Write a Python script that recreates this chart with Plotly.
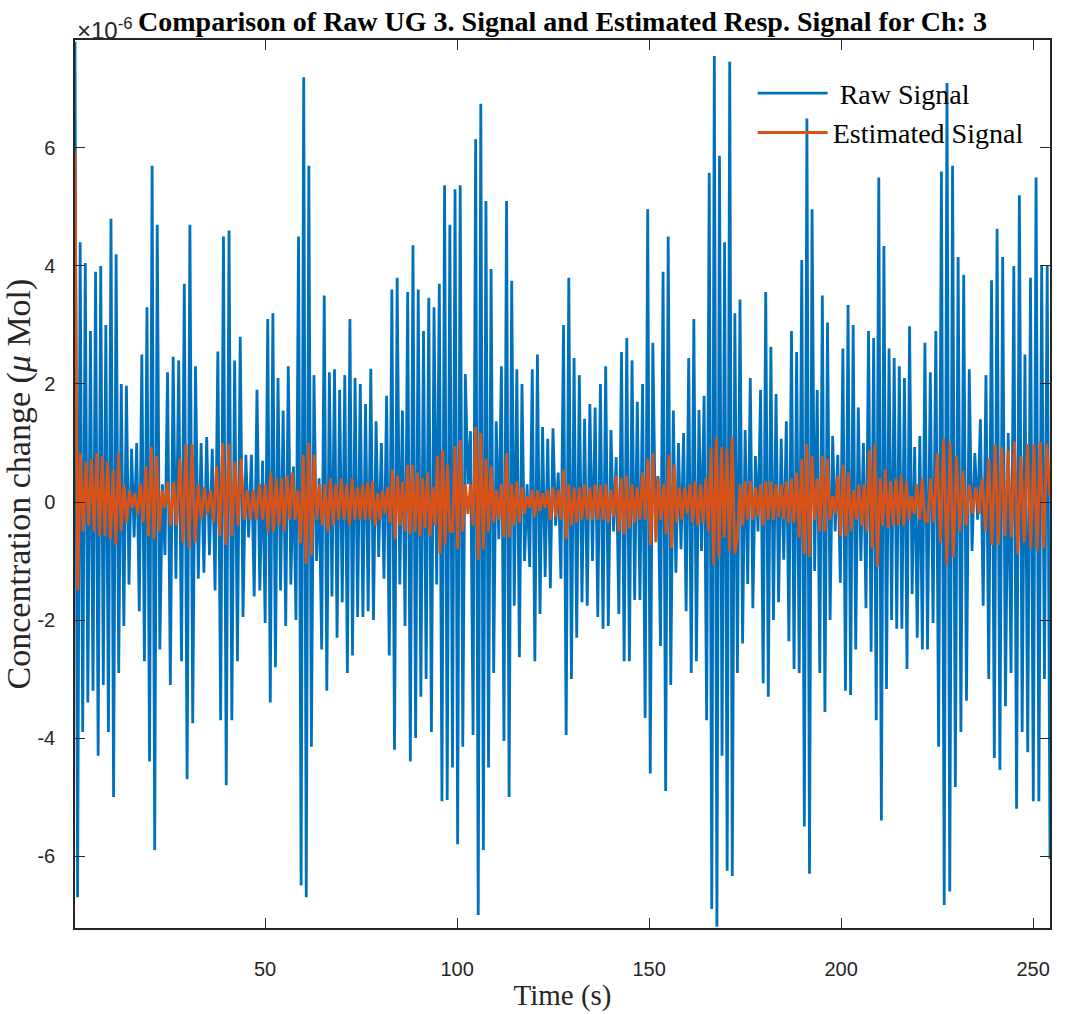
import numpy as np
import plotly.graph_objects as go

# Segment boundaries (s) used to place the extremes
seg_bounds = [0.5, 24.6, 49.35, 74.1, 98.8, 123.6, 148.3, 173.0, 197.8, 222.5, 254.4]

# Raw signal extremes (x 1e-6), read segment by segment
raw_1 = [7.8, -6.7, 4.4, -3.9, 4.05, -3.4, 2.9, -3.2, 3.9, -4.3, 4.0, -3.1, 3.0, -3.9, 4.8, -5.0, 4.2, -2.9,
         2.0, -2.1, 1.97, -1.4, 0.9, -0.6, 1.0, -1.85, 2.5, -2.7, 3.3, -4.4, 5.7, -5.9, 4.7, -2.5, 0.3, -0.9]
raw_2 = [2.2, -3.1, 2.46, -1.3, 2.4, -2.7, 3.7, -4.7, 4.7, -3.75, 2.3, -1.3, 1.0, -1.2, 1.1, -0.9, 0.9, -1.5,
         2.55, -3.7, 4.5, -4.8, 4.6, -3.7, 2.4, -2.7, 2.8, -1.95, 0.8, -0.6, 0.8, -1.6, 1.9, -1.5]
raw_3 = [0.7, -2.05, 3.1, -3.4, 3.2, -2.8, 2.1, -1.5, 1.55, -2.1, 2.3, -1.4, 0.6, -2.0, 4.5, -6.5, 7.2, -6.7,
         5.7, -4.15, 2.15, -1.0, 0.4, -2.5, 3.5, -3.2, 2.2, -1.6, 2.25, -2.3, 1.9, -1.7, 2.15, -2.9, 3.1, -2.6, 2.1]
raw_4 = [-1.95, 2.0, -1.95, 1.66, -1.85, 2.26, -2.0, 1.37, -0.93, 1.0, -1.3, 1.8, -2.6, 3.6, -4.2, 3.8, -1.4,
         1.55, -2.1, 3.56, -4.4, 4.35, -4.0, 3.6, -3.3, 2.9, -3.0, 3.46, -3.9, 3.3, -1.4, 3.7, -5.07, 5.37, -5.05, 4.7]
raw_5 = [-4.5, 5.3, -5.8, 5.37, -4.15, 2.17, 0.3, 1.2, -3.95, 6.15, -7.0, 6.75, -5.9, 5.1, -4.5, 3.95, -2.9,
         1.37, -0.63, 2.3, -4.05, 5.1, -5.0, 3.75, -1.76, 2.25, -2.63, 2.0, -1.0, 0.3, -1.1, 2.25, -2.7, 2.5, -1.9, 1.27, -1.27]
raw_6 = [1.07, -1.46, 1.25, -0.4, 0.5, -1.3, 3.0, -3.95, 3.8, -3.0, 2.44, -2.3, 2.15, -1.7, 1.41, -1.76, 1.66,
         -1.0, 1.6, -1.95, 2.0, -2.15, 2.3, -2.1, 1.22, -0.5, 0.76, -1.9, 2.54, -2.7, 2.78, -2.7, 2.4, -1.66, 1.7, -1.66]
raw_7 = [2.0, -3.66, 4.96, -4.6, 2.7, -0.3, 0.44, -2.44, 3.9, -4.9, 4.5, -3.1, 1.55, -1.2, 1.0, -0.8, 1.17, -1.85,
         2.44, -2.9, 3.1, -2.7, 1.56, -0.83, 1.8, -3.7, 5.58, -6.9, 7.56, -7.2, 5.87, -4.3, 4.4, -6.25, 7.46, -6.34, 3.2]
raw_8 = [-2.9, 3.43, -2.4, 1.22, -1.39, 2.1, -1.8, 0.78, -0.5, 1.9, -3.07, 3.56, -3.3, 2.63, -2.0, 1.83, -1.7,
         1.07, -0.98, 1.37, -2.36, 2.9, -2.83, 2.54, -2.9, 4.1, -5.5, 6.5, -6.3, 4.96, -1.17, 1.9, -2.9, 3.5, -3.56, 3.04, -2.0]
raw_9 = [1.12, -0.5, 0.8, -1.37, 2.6, -3.2, 3.34, -3.27, 3.0, -2.5, 1.6, -1.0, 1.0, -1.8, 2.9, -2.54, 2.78, -3.7,
         5.5, -5.4, 4.34, -3.17, 2.6, -2.0, 2.44, -2.15, 2.3, -2.15, 2.1, -2.83, 2.98, -1.56, 0.93, -2.3, 1.12, -2.5, 2.7]
raw_10 = [-2.5, 2.2, -2.05, 2.9, -4.15, 5.6, -6.83, 7.1, -6.6, 5.7, -4.83, 4.15, -3.9, 3.85, -3.37, 2.25, -0.83,
          0.83, -0.3, 1.4, -1.76, 2.15, -3.0, 3.76, -4.34, 4.63, -4.54, 4.15, -3.46, 1.17, -2.9, 4.0, -5.2, 5.2,
          -3.9, 2.5, -4.24, 3.8, -5.07, 5.5, -5.07, 4.0, -3.0, 4.0, -6.05]

# Estimated signal extremes (x 1e-6)
est_1 = [5.95, -1.5, 0.83, -0.5, 0.68, -0.4, 0.73, -0.5, 0.83, -0.58, 0.78, -0.58, 0.68, -0.63, 0.54, -0.73, 0.83,
         -0.5, 0.3, -0.34, 0.2, -0.1, 0.15, -0.2, 0.3, -0.34, 0.6, -0.58, 0.93, -0.63, 0.78, -0.5, 0.2, -0.1]
est_2 = [0.34, -0.4, 0.34, -0.4, 0.73, -0.68, 0.98, -0.78, 0.98, -0.68, 0.3, -0.3, 0.25, -0.2, 0.2, -0.34, 0.6,
         -0.58, 1.0, -0.73, 0.98, -0.58, 0.68, -0.4, 0.73, -0.3, 0.2, -0.3, 0.2, -0.3, 0.3]
est_3 = [-0.3, 0.3, -0.5, 0.5, -0.5, 0.4, -0.4, 0.4, -0.5, 0.45, -0.3, 0.5, -0.3, 0.2, -0.7, 0.8, -1.05, 1.0, -0.9,
         0.8, -0.3, 0.3, -0.4, 0.3, -0.5, 0.4, -0.4, 0.3, -0.3, 0.4, -0.3, 0.3, -0.4, 0.4, -0.3]
est_4 = [0.25, -0.3, 0.3, -0.3, 0.34, -0.3, 0.35, -0.4, 0.15, -0.3, 0.2, -0.2, 0.25, -0.35, 0.55, -0.63, 0.45, -0.4,
         0.34, -0.5, 0.63, -0.55, 0.63, -0.5, 0.5, -0.58, 0.4, -0.45, 0.5, -0.58, 0.25, -0.4, 0.78, -0.88, 0.88, -0.73, 0.63, -0.5]
est_5 = [-0.5, 0.95, -0.8, 1.05, -0.5, 0.3, -0.2, 0.3, -0.4, 1.27, -0.98, 1.17, -0.8, 0.73, -0.5, 0.6, -0.35, 0.2,
         -0.3, 0.3, -0.6, 0.83, -0.6, 0.3, -0.4, 0.35, -0.35, 0.25, -0.2, 0.1, -0.1, 0.2, -0.25, 0.2, -0.15, 0.15, -0.1]
est_6 = [0.2, -0.3, 0.25, -0.25, 0.2, -0.3, 0.55, -0.63, 0.3, -0.4, 0.25, -0.35, 0.25, -0.3, 0.3, -0.3, 0.25, -0.3,
         0.3, -0.3, 0.28, -0.3, 0.3, -0.35, 0.2, -0.25, 0.45, -0.5, 0.4, -0.55, 0.45, -0.45, 0.3, -0.35, 0.25, -0.3]
est_7 = [0.5, -0.3, 0.73, -0.73, 0.83, -0.68, 0.4, -0.3, 0.3, -0.55, 0.8, -0.78, 0.63, -0.35, 0.25, -0.3, 0.25, -0.2,
         0.3, -0.35, 0.35, -0.4, 0.3, -0.35, 0.4, -0.5, 0.93, -1.07, 1.1, -0.93, 0.93, -0.6, 0.9, -0.83, 1.1, -0.88]
est_8 = [-0.6, 0.3, -0.4, 0.35, -0.3, 0.35, -0.3, 0.25, -0.25, 0.3, -0.4, 0.35, -0.3, 0.35, -0.3, 0.3, -0.25, 0.3,
         -0.3, 0.35, -0.35, 0.4, -0.35, 0.5, -0.6, 0.73, -0.88, 0.98, -0.93, 0.78, -0.3, 0.4, -0.5, 0.78, -0.5, 0.73, -0.3]
est_9 = [0.1, -0.2, 0.45, -0.58, 0.63, -0.58, 0.5, -0.5, 0.2, -0.3, 0.3, -0.4, 0.3, -0.5, 0.88, -0.78, 0.98, -1.1,
         0.4, -0.4, 0.55, -0.45, 0.35, -0.4, 0.4, -0.4, 0.45, -0.4, 0.35, -0.3, 0.1, -0.2, 0.3, -0.3, 0.4, -0.3]
est_10 = [-0.35, 0.4, -0.35, 0.83, -0.68, 1.07, -1.07, 1.02, -0.93, 0.78, -0.5, 0.53, -0.4, 0.3, -0.2, 0.25, -0.2,
          0.4, -0.5, 0.73, -0.73, 0.98, -0.73, 0.93, -0.58, 0.88, -0.6, 1.02, -0.88, 0.78, -0.68, 0.98, -0.78, 0.98,
          -0.83, 1.02, -0.78, 0.98, 0.1]

x_ticks = [50, 100, 150, 200, 250]
y_ticks = [-6, -4, -2, 0, 2, 4, 6]
y_tick_labels = ["-6", "-4", "-2", "0", "2", "4", "6"]

raw_segs = [raw_1, raw_2, raw_3, raw_4, raw_5, raw_6, raw_7, raw_8, raw_9, raw_10]
est_segs = [est_1, est_2, est_3, est_4, est_5, est_6, est_7, est_8, est_9, est_10]


def place(segs):
    t, v = [], []
    for k, s in enumerate(segs):
        a, b = seg_bounds[k], seg_bounds[k + 1]
        last = k == len(segs) - 1
        tt = np.linspace(a, b, len(s), endpoint=last)
        t.extend(tt.tolist())
        v.extend(s)
    return t, v


t_raw, v_raw = place(raw_segs)
t_est, v_est = place(est_segs)

BLUE = "#0072BD"
ORANGE = "#D95319"
AX = "#262626"

fig = go.Figure()
fig.add_trace(go.Scatter(x=t_raw, y=v_raw, mode="lines", name="\u00a0Raw Signal",
                         line=dict(color=BLUE, width=2.8)))
fig.add_trace(go.Scatter(x=t_est, y=v_est, mode="lines", name="Estimated Signal",
                         line=dict(color=ORANGE, width=2.8)))

axis_common = dict(showline=True, linecolor=AX, linewidth=1.5, mirror="ticks", ticks="inside",
                   ticklen=10, tickwidth=1.3, tickcolor=AX, showgrid=False, zeroline=False,
                   automargin=False,
                   tickfont=dict(family="Liberation Sans", size=20, color=AX))

fig.update_xaxes(range=[seg_bounds[0], seg_bounds[-1]], tickvals=x_ticks, ticklabelstandoff=22,
                 title=dict(text="Time (s)", font=dict(family="Liberation Serif", size=29, color=AX), standoff=6),
                 **axis_common)
fig.update_yaxes(range=[-7.22, 7.83], tickvals=y_ticks, ticktext=y_tick_labels, ticklabelstandoff=14,
                 title=dict(text="Concentration change (<i>\u03bc</i> Mol)",
                            font=dict(family="Liberation Serif", size=34, color=AX), standoff=0),
                 **axis_common)

fig.update_layout(
    width=1070, height=1014,
    margin=dict(l=75, r=20, t=40, b=86),
    paper_bgcolor="white", plot_bgcolor="white",
    title=dict(text="<b>Comparison of Raw UG 3. Signal and Estimated Resp. Signal for Ch: 3</b>",
               font=dict(family="Liberation Serif", size=28, color="black"),
               x=0.5257, xanchor="center", y=1 - 21 / 1014, yanchor="middle"),
    legend=dict(x=0.695, y=0.968, xanchor="left", yanchor="top", bgcolor="rgba(0,0,0,0)",
                borderwidth=0, itemwidth=70, tracegroupgap=0,
                font=dict(family="Liberation Serif", size=28, color="black")),
    showlegend=True,
)

fig.add_annotation(text="\u00d710<sup>-6</sup>", xref="paper", yref="paper", x=0, y=1, xanchor="left",
                   yanchor="bottom", showarrow=False, yshift=-6,
                   font=dict(family="Liberation Sans", size=24, color=AX))

fig.write_html("out.html")
